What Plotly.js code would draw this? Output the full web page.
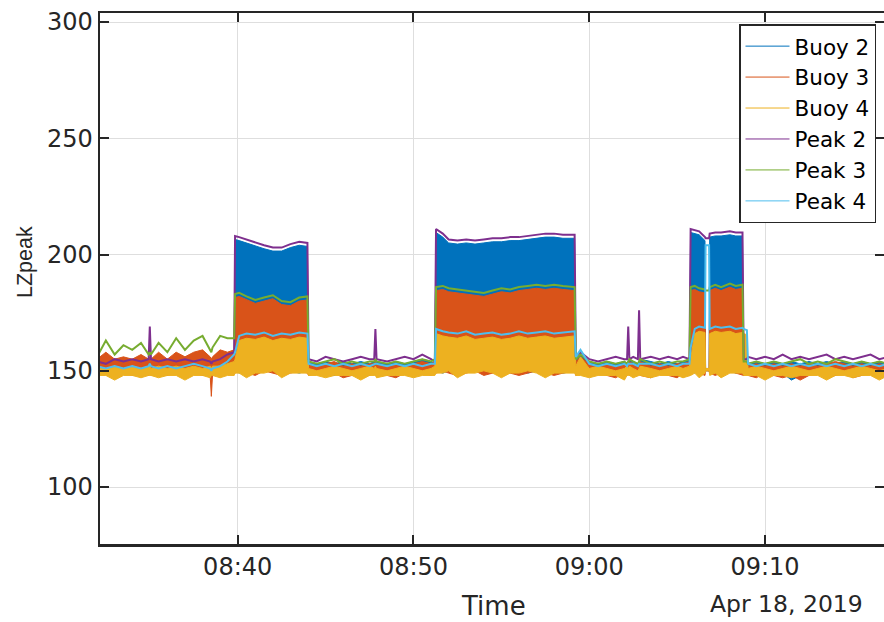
<!DOCTYPE html>
<html><head><meta charset="utf-8">
<script src="https://cdn.plot.ly/plotly-3.0.1.min.js"></script>
<style>html,body{margin:0;padding:0;background:#fff;overflow:hidden}</style>
</head><body><div id="chart" style="width:884px;height:622px"></div>
<script>
const day = "2019-04-18";
const sampleTimes = [
 "08:32:00","08:32:30","08:33:00","08:33:30","08:34:00","08:34:30","08:34:56","08:35:00","08:35:04","08:35:30","08:36:00","08:36:30","08:37:00","08:37:30","08:38:00","08:38:26","08:38:30","08:38:34","08:39:00","08:39:25","08:39:48",
 "08:39:51","08:40:05","08:40:30","08:41:00","08:41:30","08:42:00","08:42:30","08:43:00","08:43:30","08:43:58",
 "08:44:02","08:44:30","08:45:00","08:45:30","08:46:00","08:46:30","08:47:00","08:47:30","08:47:46","08:47:50","08:47:54","08:48:30","08:49:00","08:49:30","08:50:00","08:50:30","08:51:00","08:51:13",
 "08:51:17","08:51:40","08:52:00","08:52:30","08:53:00","08:53:30","08:54:00","08:54:30","08:55:00","08:55:30","08:56:00","08:56:30","08:57:00","08:57:30","08:58:00","08:58:30","08:59:10",
 "08:59:14","08:59:30","09:00:00","09:00:30","09:01:00","09:01:30","09:02:00","09:02:09","09:02:13","09:02:17","09:02:30","09:02:46","09:02:50","09:02:54","09:03:30","09:04:00","09:04:30","09:05:00","09:05:20","09:05:42",
 "09:05:46","09:06:00","09:06:15","09:06:35","09:06:37","09:06:49","09:06:51","09:07:10","09:07:30","09:08:00","09:08:20","09:08:43","09:08:47","09:08:58",
 "09:09:02","09:09:30","09:10:00","09:10:30","09:11:00","09:11:30","09:12:00","09:12:30","09:13:00","09:13:30","09:14:00","09:14:30","09:15:00","09:15:30","09:16:00","09:16:30","09:17:00"
];
// Buoy series: lower and upper envelope of the fast signal in each sample interval
const buoy2Lo = [
 149,150,149,150,149,150,149,150,149,150,149,150,149,150,149,150,149,150,150,151,150,
 150,149,150,149,150,150,149,150,149,150,
 149,150,149,148,150,149,150,149,150,149,150,149,150,149,148,150,149,150,
 150,149,150,149,150,150,149,150,149,150,150,149,150,149,150,149,150,
 149,150,149,150,149,150,149,150,149,150,149,150,149,150,148,150,149,150,149,150,
 150,149,150,150,150,150,149,150,149,150,149,150,149,150,
 150,149,148,150,149,146,148,149,149,150,148,149,150,148,149,150,149
];
const buoy2Hi = [
 154,153,154,153,154,153,154,155,154,153,154,153,154,153,155,154,153,154,153,155,156,
 206.5,206,205,203.5,202.5,201.5,201.5,203,204,203.5,
 154,153,154,153,154,153,154,153,154,155,154,153,154,153,154,155,154,153,
 209.5,207.5,205,204.5,205,204.5,205,205.5,205.5,206,206,206.5,207,207.5,207.5,207,207,
 155,157,154,153,154,153,154,153,154,155,154,153,154,155,154,153,154,153,154,155,
 209.5,209,208.5,206,151,151,207.5,208,208,208.5,208,208,154,154,
 153,154,153,154,153,154,153,154,153,154,153,154,153,154,153,154,153
];
const buoy3Lo = [
 148,149,148,149,148,149,148,149,148,149,148,149,148,149,148,148,139,148,149,149,149,
 149,150,149,148,150,149,148,149,150,149,
 148,149,148,149,147,148,149,148,149,148,149,148,147,149,148,149,148,149,
 149,150,149,148,149,150,148,149,150,149,148,149,150,149,148,149,150,
 148,149,148,149,148,147,149,148,149,148,149,148,149,148,147,149,148,147,149,148,
 149,150,149,148,150,150,149,148,149,150,149,148,148,149,
 148,147,149,148,147,148,146,148,149,147,148,149,147,148,149,148,149
];
const buoy3Hi = [
 155,158,155,156,155,157,155,156,155,158,155,158,156,158,159,156,155,156,159,158,159,
 181.5,182,180.5,179,180,181,178.5,178,180,180.5,
 153,152,153,154,152,153,152,153,153,154,153,152,153,152,153,154,153,154,
 184.5,185,184,183.5,183,182.5,182,183,184,183.5,184.5,185,185.5,185,185.5,185,184.5,
 154,156,153,152,153,152,153,152,153,154,153,152,153,154,152,153,152,153,153,154,
 184.5,185,184,183.5,151,151,184.5,185.5,184.5,186,185,185.5,153,153,
 152,153,152,153,152,153,152,153,152,153,154,153,152,153,152,153,152
];
const buoy4Lo = [
 148,148,146,148,148,147,148,148,148,147,148,148,146,148,148,147,148,148,147,148,148,
 149,149,147,149,149,150,147,149,149,149,
 148,148,147,148,148,148,146,148,148,148,147,148,148,148,147,148,148,148,
 149,149,150,147,149,149,150,149,147,149,149,150,149,147,149,149,149,
 148,148,147,148,148,148,146,148,148,148,147,148,148,148,147,148,148,148,147,148,
 148,149,147,149,150,150,148,149,147,149,149,149,148,148,
 148,148,146,148,148,147,148,148,148,146,148,148,147,148,148,146,148
];
const buoy4Hi = [
 152,151,152,151,152,151,152,152,151,152,151,152,151,152,151,152,151,152,152,153,154,
 155,163,164,163.5,164.5,163,164,163.5,164.5,164,
 151,150,151,152,151,150,151,152,151,152,151,150,151,152,151,150,151,152,
 166,165,164.5,164,165,163.5,164,164.5,163.5,164,165,164,164.5,165,164,164.5,165,
 152,156,151,152,151,150,151,152,151,152,151,150,151,152,151,150,151,152,151,152,
 155,166,167,166.5,151,151,166,167,166.5,167,166,166.5,166,165.5,
 151,152,151,150,151,152,151,150,151,152,151,150,151,152,151,150,151
];
const peak2 = [
 154,153,155,154,155,154,155,169,155,154,155,154,155,154,155,154,153,154,155,157,158,
 208,207.5,206.5,205,204,203,203,204.5,205.5,205,
 155,154,156,155,154,155,156,155,155,168,155,154,155,156,155,157,155,154,
 211,209,206.5,206,206.5,206,206.5,207,207,207.5,207.5,208,208.5,209,209,208.5,208.5,
 156,158,155,154,155,156,155,155,169,155,156,155,176,155,156,155,156,155,156,155,
 211,210.5,210,207.5,207,207,209,209.5,209.5,210,209.5,209.5,155,155,
 156,155,156,155,157,155,156,155,156,157,155,156,155,156,157,155,156
];
const peak3 = [
 156,163,157,161,159,162,157,158,157,162,158,164,159,163,165,159,158,160,165,164,164,
 183,183.5,182,180.5,181.5,182.5,180,179.5,181.5,182,
 154,153,154,155,153,154,153,154,154,155,154,153,154,153,154,155,154,155,
 186,186.5,185.5,185,184.5,184,183.5,184.5,185.5,185,186,186.5,187,186.5,187,186.5,186,
 155,157,154,153,154,153,154,153,154,155,154,153,154,155,153,154,153,154,154,155,
 186,186.5,185.5,185,184.5,184.5,186,187,186,187.5,186.5,187,154,154,
 153,154,153,154,153,154,155,153,154,153,155,154,153,154,153,154,153
];
const peak4 = [
 152,151,152,151,152,151,152,153,152,151,152,151,152,153,152,151,150,151,152,154,157,
 158,165,166,165.5,166.5,165,166,165.5,166.5,166,
 153,152,153,152,153,152,153,152,153,153,153,152,153,152,153,152,153,153,
 168,167,166.5,166,167,165.5,166,166.5,165.5,166,167,166,166.5,167,166,166.5,167,
 156,159,153,152,153,152,153,152,153,153,153,152,153,153,153,152,153,152,153,153,
 160,168,169,168.5,204,204,168,169,168.5,169,168,168.5,168,167.5,
 153,152,153,152,153,152,153,152,153,152,153,152,153,152,153,152,153
];
const seriesNames = ["Buoy 2","Buoy 3","Buoy 4","Peak 2","Peak 3","Peak 4"];
const yTickValues = [100,150,200,250,300];
const xTickTimes = ["08:40","08:50","09:00","09:10"];
const dateLabel = "Apr 18, 2019";
const xTitle = "Time";
const yTitle = "LZpeak";

const colors = ["#0072BD","#D95319","#EDB120","#7E2F8E","#77AC30","#4DBEEE"];
const x = sampleTimes.map(t => day + " " + t);
const traces = [];
const buoys = [[buoy2Lo,buoy2Hi],[buoy3Lo,buoy3Hi],[buoy4Lo,buoy4Hi]];
buoys.forEach((b,i) => {
  traces.push({x:x, y:b[0], type:"scatter", mode:"lines", line:{color:colors[i], width:1}, showlegend:false, hoverinfo:"skip"});
  traces.push({x:x, y:b[1], type:"scatter", mode:"lines", fill:"tonexty", fillcolor:colors[i], line:{color:colors[i], width:1}, showlegend:false, hoverinfo:"skip"});
});
[peak2,peak3,peak4].forEach((p,i) => {
  traces.push({x:x, y:p, type:"scatter", mode:"lines", line:{color:colors[3+i], width:2}, showlegend:false, hoverinfo:"skip"});
});
seriesNames.forEach((n,i) => {
  traces.push({x:[null], y:[null], type:"scatter", mode:"lines", name:n, line:{color:colors[i], width:1}, showlegend:true});
});

const axisCol = "#262626";
const fam = "DejaVu Sans, Verdana, sans-serif";
const layout = {
  width:884, height:622,
  margin:{l:100, r:0, t:13, b:78},
  paper_bgcolor:"#fff", plot_bgcolor:"#fff",
  font:{family:fam, color:axisCol, size:24},
  showlegend:true,
  xaxis:{
    type:"date",
    range:[day+" 08:32:10", day+" 09:16:46"],
    tickvals: xTickTimes.map(t => day+" "+t+":00"),
    ticktext: xTickTimes,
    ticks:"inside", ticklen:9, tickwidth:2, tickcolor:axisCol,
    showline:true, linecolor:axisCol, linewidth:2.5, mirror:"ticks",
    showgrid:true, gridcolor:"#dedede", gridwidth:1,
    zeroline:false, tickfont:{family:fam, size:24, color:axisCol}
  },
  yaxis:{
    range:[75.5,303.9],
    tickvals:yTickValues,
    ticks:"inside", ticklen:9, tickwidth:2, tickcolor:axisCol,
    showline:true, linecolor:axisCol, linewidth:2.5, mirror:"ticks",
    showgrid:true, gridcolor:"#dedede", gridwidth:1,
    zeroline:false, tickfont:{family:fam, size:24, color:axisCol}
  },
  legend:{
    x:0.9898, xanchor:"right", y:0.979, yanchor:"top",
    bgcolor:"#fff", bordercolor:axisCol, borderwidth:1.5,
    itemwidth:44,
    font:{family:fam, size:21.5, color:"#000"}, traceorder:"normal"
  },
  annotations:[
    {text:xTitle, xref:"paper", yref:"paper", x:(493-100)/784, y:(544-606)/531, xanchor:"center", yanchor:"middle", showarrow:false, font:{family:fam, size:26, color:axisCol}},
    {text:dateLabel, xref:"paper", yref:"paper", x:(786-100)/784, y:(544-604)/531, xanchor:"center", yanchor:"middle", showarrow:false, font:{family:fam, size:23.5, color:axisCol}},
    {text:yTitle, xref:"paper", yref:"paper", x:(25-100)/784, y:(544-262)/531, xanchor:"center", yanchor:"middle", textangle:-90, showarrow:false, font:{family:"Liberation Sans, Arial, sans-serif", size:21.5, color:axisCol}}
  ]
};
Plotly.newPlot("chart", traces, layout, {staticPlot:true, displayModeBar:false});
</script></body></html>
